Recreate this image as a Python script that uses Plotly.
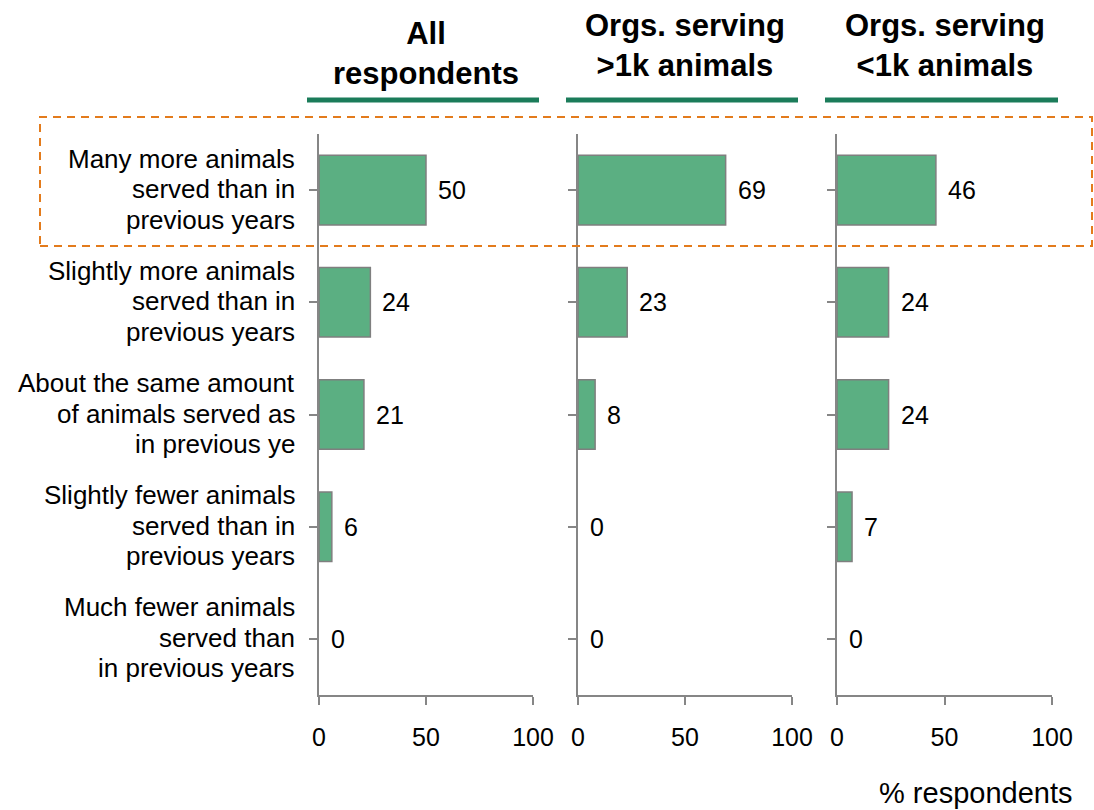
import plotly.graph_objects as go
from plotly.subplots import make_subplots

categories = [
    "Many more animals<br>served than in<br>previous years",
    "Slightly more animals<br>served than in<br>previous years",
    "About the same amount<br>of animals served as<br>in previous ye",
    "Slightly fewer animals<br>served than in<br>previous years",
    "Much fewer animals<br>served than<br>in previous years",
]
panel_titles = ["All<br>respondents", "Orgs. serving<br>>1k animals", "Orgs. serving<br><1k animals"]
all_respondents = [50, 24, 21, 6, 0]
orgs_over_1k = [69, 23, 8, 0, 0]
orgs_under_1k = [46, 24, 24, 7, 0]
series = [all_respondents, orgs_over_1k, orgs_under_1k]
x_ticks = [0, 50, 100]
x_title = "% respondents"

W, H = 1094, 810
BAR = "#5BAF82"
EDGE = "#7F7F7F"
AXIS = "#868686"
HEAD = "#1B7C5A"
ORANGE = "#E37B1C"
FONT = "Liberation Sans, Arial, sans-serif"

fig = make_subplots(rows=1, cols=3, shared_yaxes=False)

px_domains = [(319, 533), (578, 792), (837, 1052)]
y_top, y_bot = 134, 695
n = len(categories)

for i, vals in enumerate(series):
    fig.add_trace(
        go.Bar(
            x=vals, y=list(range(n)), orientation="h",
            width=0.62,
            marker=dict(color=BAR, line=dict(color=EDGE, width=[1.5 if v > 0 else 0 for v in vals])),
            hoverinfo="skip", showlegend=False,
        ),
        row=1, col=i + 1,
    )
    xa = "xaxis" if i == 0 else f"xaxis{i+1}"
    ya = "yaxis" if i == 0 else f"yaxis{i+1}"
    d0, d1 = px_domains[i]
    fig.layout[xa].update(
        domain=[d0 / W, d1 / W], range=[0, 100], tickvals=x_ticks,
        showline=True, linecolor=AXIS, linewidth=1.5,
        ticks="outside", ticklen=8, tickcolor=AXIS, tickwidth=1.5,
        showgrid=False, zeroline=False, automargin=False,
        tickfont=dict(family=FONT, size=25, color="#000"),
        ticklabelstandoff=11,
    )
    fig.layout[ya].update(
        domain=[(H - y_bot) / H, (H - y_top) / H],
        range=[n - 0.5, -0.5],
        tickvals=list(range(n)),
        ticktext=[""] * n,
        showticklabels=False,
        tickson="boundaries",
        showline=True, linecolor=AXIS, linewidth=1.5,
        ticks="outside", ticklen=8, tickcolor=AXIS, tickwidth=1.5,
        showgrid=False, zeroline=False, automargin=False,
    )
    xr = "x" if i == 0 else f"x{i+1}"
    yr = "y" if i == 0 else f"y{i+1}"
    for j, v in enumerate(vals):
        fig.add_annotation(
            x=v, y=j, xref=xr, yref=yr, text=str(v), showarrow=False,
            xanchor="left", yanchor="middle", xshift=10,
            font=dict(family=FONT, size=25, color="#000"),
        )
    # header
    cx = (d0 + d1) / 2 / W
    ty = 53 if i == 0 else 45
    fig.add_annotation(
        x=cx, y=(H - ty) / H, xref="paper", yref="paper", text=f"<b>{panel_titles[i]}</b>",
        showarrow=False, xanchor="center", yanchor="middle",
        font=dict(family=FONT, size=31, color="#000"),
    )
    fig.add_shape(
        type="line", xref="paper", yref="paper",
        x0=(d0 - 12) / W, x1=(d1 + 6) / W, y0=(H - 100) / H, y1=(H - 100) / H,
        line=dict(color=HEAD, width=5),
    )

# category labels (one annotation per line, right-aligned)
LINE = 30.5
for j, cat in enumerate(categories):
    lines = cat.split("<br>")
    m = len(lines)
    for k, ln in enumerate(lines):
        fig.add_annotation(
            x=297 / W, y=j, xref="paper", yref="y", text=ln, showarrow=False,
            xanchor="right", yanchor="middle", yshift=-(k - (m - 1) / 2) * LINE + 1,
            font=dict(family=FONT, size=26, color="#000"),
        )

# highlight box
fig.add_shape(
    type="rect", xref="paper", yref="paper",
    x0=40 / W, x1=1092 / W, y0=(H - 246) / H, y1=(H - 117) / H,
    line=dict(color=ORANGE, width=2, dash="8px,6px"), fillcolor="rgba(0,0,0,0)",
)

fig.add_annotation(
    x=1074 / W, y=(H - 793) / H, xref="paper", yref="paper", text=x_title,
    showarrow=False, xanchor="right", yanchor="middle",
    font=dict(family=FONT, size=29, color="#000"),
)

fig.update_layout(
    width=W, height=H, margin=dict(l=0, r=0, t=0, b=0),
    paper_bgcolor="white", plot_bgcolor="white", bargap=0.38,
)

fig.write_html("out.html", config={"displayModeBar": False},
               post_script="document.body.style.margin='0';")
